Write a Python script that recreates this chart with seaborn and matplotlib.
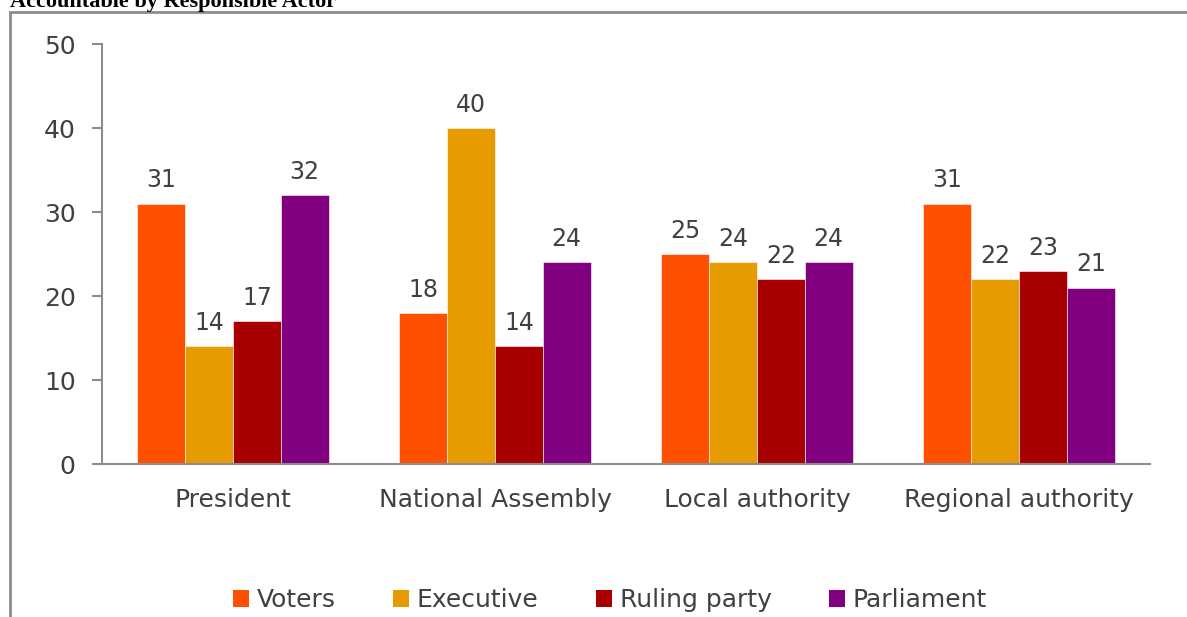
import matplotlib
matplotlib.use("Agg")
import matplotlib.pyplot as plt
from matplotlib.patches import Rectangle, Patch
import pandas as pd
import seaborn as sns

# ── Data ─────────────────────────────────────
categories = ["President", "National Assembly", "Local authority", "Regional authority"]
actors = ["Voters", "Executive", "Ruling party", "Parliament"]
voters = [31, 18, 25, 31]
executive = [14, 40, 24, 22]
ruling_party = [17, 14, 22, 23]
parliament = [32, 24, 24, 21]
colors = ["#FF5000", "#E69C00", "#A80000", "#800080"]

df = pd.DataFrame({
    "category": categories * 4,
    "actor": [a for a in actors for _ in categories],
    "value": voters + executive + ruling_party + parliament,
})

sns.set_style("white")
plt.rcParams["font.family"] = ["DejaVu Sans"]
text_col = "#404040"
axis_col = "#8C8C8C"

fig = plt.figure(figsize=(11.87, 6.17), dpi=100)
ax = fig.add_axes([102 / 1187, 1 - 464 / 617, (1150 - 102) / 1187, (464 - 44) / 617])

sns.barplot(data=df, x="category", y="value", hue="actor", order=categories,
            hue_order=actors, palette=colors, width=0.73, ax=ax,
            edgecolor="white", linewidth=0.4, legend=False, saturation=1)

for cont in ax.containers:
    ax.bar_label(cont, fmt="%d", padding=8, fontsize=17, color=text_col)

ax.set_ylim(0, 50)
ax.set_yticks(range(0, 51, 10))
ax.set_xlim(-0.5, 3.5)
ax.set_xlabel("")
ax.set_ylabel("")
for s in ["top", "right"]:
    ax.spines[s].set_visible(False)
for s in ["left", "bottom"]:
    ax.spines[s].set_color(axis_col)
    ax.spines[s].set_linewidth(1.5)

ax.set_xticks([-0.5, 0.5, 1.5, 2.5, 3.5], minor=True)
ax.tick_params(axis="x", which="minor", direction="out", length=7, width=1.5, color=axis_col)
ax.tick_params(axis="x", which="major", length=0, pad=17, labelsize=18, labelcolor=text_col)
ax.tick_params(axis="y", direction="out", length=7, width=1.5, color=axis_col,
               left=True, pad=12, labelsize=18, labelcolor=text_col)

# legend
handles = [Patch(facecolor=c, edgecolor="none") for c in colors]
fig.legend(handles, actors, loc="center", bbox_to_anchor=(610 / 1187, 1 - 600 / 617),
           ncol=4, frameon=False, fontsize=18, labelcolor=text_col,
           handlelength=0.65, handleheight=0.65, handletextpad=0.3, columnspacing=2.3)

# outer chart frame
fig.patches.append(Rectangle((10 / 1187, -0.05), 1.2, 1 - 12 / 617 + 0.05,
                             transform=fig.transFigure, fill=False,
                             edgecolor=axis_col, linewidth=2))

fig.text(10 / 1187, 1 - 7 / 617, "Accountable by Responsible Actor",
         family="Liberation Serif", weight="bold", fontsize=16, va="baseline",
         ha="left", color="black")

fig.savefig("out.png", dpi=100)
